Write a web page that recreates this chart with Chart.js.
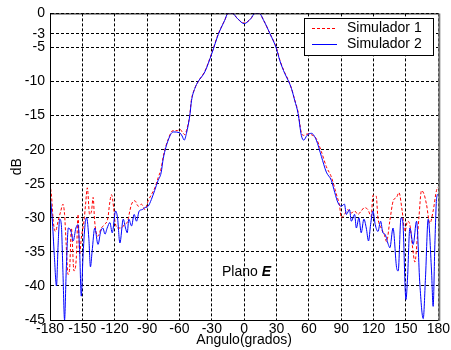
<!DOCTYPE html>
<html>
<head>
<meta charset="utf-8">
<script src="https://cdn.jsdelivr.net/npm/chart.js@4.4.1/dist/chart.umd.min.js"></script>
<style>
  html, body { margin: 0; padding: 0; background: #fff; }
  #wrap { width: 451px; height: 350px; }
</style>
</head>
<body>
<div id="wrap"><canvas id="plot" width="451" height="350"></canvas></div>
<script>
// angle ticks (x) and dB ticks (y)
var xTicks = [-180, -150, -120, -90, -60, -30, 0, 30, 60, 90, 120, 150, 180];
var yTicks = [0, -3, -5, -10, -15, -20, -25, -30, -35, -40, -45];

var seriesNames = ["Simulador 1", "Simulador 2"];

// Simulador 1 (red dashed)
var angles1 = [-180,-178.5,-177,-175,-172.5,-170,-168,-166.5,-165,-163.3,-161.8,-160.2,-157.8,-155.6,-154,-152.5,-151,-148.5,-147,-145.4,
  -143.3,-141.5,-140,-138.6,-135.6,-132.5,-129.4,-126.3,-124.8,-123,-121,-119.8,-117,-114,-111,-108,-106,-104.4,-101.3,-98.2,
  -95.2,-92,-89,-86,-82.8,-79.7,-77,-75,-70,-66,-62,-59.6,-57,-55,-53.5,-50.5,-49,-45.7,-42.6,-36.5,
  -30,-24,-18,-15,-11,-6,0,6,10,14,18,24,30,33,37.6,40.7,43.8,46.9,50,53,
  55.2,58.3,62.3,66.9,71.6,76.2,80.8,85.4,88.5,90,93,96.2,99.3,102.4,105.5,108.5,111.6,114.7,117.8,119.4,
  122.4,124,127,130,132,135,138.2,141.3,143.5,146.5,149,151.5,153.6,155.8,158.3,160.5,162,164.4,166.9,169,
  172.2,175.2,178.3,180];
var db1 = [-25,-27,-30.5,-32,-30.5,-29,-28,-29.5,-33.9,-38.3,-37.5,-31.5,-37.8,-35.9,-29.5,-35.4,-33,-30.5,-28,-25.6,
  -29.5,-29,-27,-30.5,-32.7,-31.5,-31,-30,-28,-26.6,-28.5,-30.5,-31.5,-31.5,-31,-30.5,-29,-28,-27.5,-28.3,
  -28,-28.8,-27.5,-26.6,-25.6,-24.1,-22.8,-21,-18.3,-17.2,-17.2,-17,-17.5,-17.8,-17.2,-15,-12.8,-11,-10,-8.5,
  -5.8,-3,-1,0,0,-0.8,-1.4,-0.8,0,0,-1,-3,-5.1,-6.8,-8.7,-9.7,-11,-12.7,-14.5,-17.5,
  -17.9,-17.7,-17.8,-18.4,-20.3,-22.5,-24,-26.5,-28.3,-30,-29.5,-28.8,-29.3,-29,-29.5,-29,-28.5,-28.8,-29.8,-26.7,
  -26.8,-30,-31.5,-32.5,-33.5,-30.5,-27.5,-27,-26.3,-29,-32,-30.5,-31,-33.9,-36.5,-33,-30,-26,-26.6,-28,
  -30.8,-29,-26,-25.5];

// Simulador 2 (blue solid)
var angles2 = [-180,-178,-176,-174,-172.5,-171,-169.5,-168,-166.5,-165,-163,-160.5,-158.5,-156,-154,-152.5,-151,-149.5,-147.5,-146,
  -144,-142.5,-141,-138.5,-135.5,-133,-131,-129,-127,-124.5,-122.3,-119.2,-117.4,-115.2,-112.1,-110,-108.4,-106.9,-104.4,-102,
  -99.8,-97.3,-94.5,-92,-89,-86,-83,-80,-77,-75,-70.4,-65.8,-60,-57.5,-55.6,-53.5,-50.4,-48.8,-45.7,-42.6,
  -36.5,-30,-24,-18,-15,-11,-6,0,6,10,14,18,24,30,33,37.6,40.7,43.8,46.9,50,
  53,55.2,58.3,62.3,66.9,71.6,76.2,80.8,84,87,90,93,94.7,97.7,99.3,102.4,104,106.4,108.5,111,
  113.2,115.3,117.2,119.4,121.5,124,126.5,128.6,130.5,133.6,135.1,138,141.3,142.8,145.4,147,150,151.5,153.6,156.7,
  159.8,162.9,166,168.1,170.6,173.7,175.2,176.8,178.5,180];
var db2 = [-26.5,-30,-35.5,-40,-34,-30.2,-31,-38,-45,-38,-31.5,-32,-33.4,-31.5,-31,-35,-41.5,-36,-31,-30,
  -33,-37.2,-35,-31.5,-33.9,-32,-31.5,-32.4,-31.5,-30.7,-32.2,-29,-30,-33.7,-30.2,-31.5,-32.2,-30.2,-31.2,-29.5,
  -30.5,-29,-28.8,-28.5,-28.3,-27.3,-26,-24.6,-23.4,-21.3,-18.6,-17.4,-17.5,-18,-18.6,-17.6,-15,-12.8,-11,-10,
  -8.6,-5.9,-3.1,-1,0,0,-0.8,-1.5,-0.8,0,0,-1,-3,-5.2,-6.9,-8.8,-9.8,-11,-12.8,-14.7,
  -17.9,-18.6,-17.9,-17.6,-18.6,-21,-23.3,-24.5,-26.3,-27.8,-28.3,-28,-29.5,-28.8,-30.5,-29.5,-31.5,-30,-32.2,-30.2,
  -31.5,-33.4,-31,-29,-31,-32,-30.5,-32.2,-32.4,-33.9,-34.4,-31.5,-37.3,-37.8,-30,-30.5,-42,-38.7,-31.5,-33.9,
  -30.5,-39.8,-44.8,-38.8,-30.2,-37.8,-43,-33.9,-27,-26.5];

function toPoints(xs, ys){
	var pts = [];
	for(var i=0; i<xs.length; i++){
		pts.push({x: xs[i], y: ys[i]});
	}
	return pts;
}

var FONT = "'Liberation Sans', Arial, sans-serif";

// white page, box around the plot, legend and the "Plano E" label
var extras = {
	id: 'extras',
	beforeDraw: function(chart){
		var ctx = chart.ctx;
		ctx.save();
		ctx.fillStyle = '#fff';
		ctx.fillRect(0, 0, chart.width, chart.height);
		ctx.restore();
	},
	afterDraw: function(chart){
		var ctx = chart.ctx;
		var a = chart.chartArea;
		ctx.save();
		// box
		ctx.strokeStyle = '#000';
		ctx.lineWidth = 1;
		ctx.beginPath();
		ctx.moveTo(a.left + 0.5, a.bottom + 0.5);
		ctx.lineTo(a.left + 0.5, a.top + 0.5);
		ctx.lineTo(a.right + 0.5, a.top + 0.5);
		ctx.stroke();
		ctx.beginPath();
		ctx.moveTo(a.left, a.bottom + 0.5);
		ctx.lineTo(a.right, a.bottom + 0.5);
		ctx.stroke();
		ctx.strokeStyle = '#777';
		ctx.lineWidth = 2;
		ctx.beginPath();
		ctx.moveTo(a.right + 1, a.top);
		ctx.lineTo(a.right + 1, a.bottom + 1);
		ctx.stroke();

		// legend
		var lx = 304, ly = 18, lw = 129, lh = 37;
		ctx.fillStyle = '#fff';
		ctx.fillRect(lx, ly, lw, lh);
		ctx.strokeStyle = '#000';
		ctx.lineWidth = 1;
		ctx.strokeRect(lx + 0.5, ly + 0.5, lw, lh);
		var colors = ['#ff0000', '#0000ff'];
		var dashes = [[3, 2], []];
		ctx.font = '14px ' + FONT;
		ctx.textBaseline = 'middle';
		ctx.textAlign = 'left';
		for(var i=0; i<seriesNames.length; i++){
			var yy = ly + 10.5 + i * 16;
			ctx.strokeStyle = colors[i];
			ctx.setLineDash(dashes[i]);
			ctx.beginPath();
			ctx.moveTo(lx + 8, yy);
			ctx.lineTo(lx + 33, yy);
			ctx.stroke();
			ctx.setLineDash([]);
			ctx.fillStyle = '#000';
			ctx.fillText(seriesNames[i], lx + 43, yy);
		}

		// Plano E
		ctx.font = '14px ' + FONT;
		ctx.fillStyle = '#000';
		ctx.fillText('Plano ', 222, 272);
		var w = ctx.measureText('Plano ').width;
		ctx.font = 'italic bold 14px ' + FONT;
		ctx.fillText('E', 222 + w, 272);
		ctx.restore();
	}
};

var context = document.getElementById('plot').getContext('2d');
var chart = new Chart(context, {
	type: 'line',
	data: {
		datasets: [{
			label: seriesNames[0],
			data: toPoints(angles1, db1),
			borderColor: '#ff0000',
			borderWidth: 1,
			borderDash: [3, 2],
			pointRadius: 0,
			cubicInterpolationMode: 'monotone',
			fill: false,
			order: 1
		}, {
			label: seriesNames[1],
			data: toPoints(angles2, db2),
			borderColor: '#0000ff',
			borderWidth: 1,
			pointRadius: 0,
			cubicInterpolationMode: 'monotone',
			fill: false,
			order: 0
		}]
	},
	options: {
		responsive: false,
		animation: false,
		devicePixelRatio: 1,
		layout: { padding: { left: 9, right: 11, top: 13, bottom: 0 } },
		plugins: {
			legend: { display: false },
			tooltip: { enabled: false }
		},
		scales: {
			x: {
				type: 'linear',
				min: -180,
				max: 180,
				afterBuildTicks: function(scale){
					scale.ticks = xTicks.map(function(v){ return {value: v}; });
				},
				afterFit: function(scale){ scale.height = 30; },
				ticks: {
					autoSkip: false,
					maxRotation: 0,
					padding: 1,
					color: '#000',
					font: { family: FONT, size: 14 }
				},
				grid: { color: '#000', lineWidth: 1, drawTicks: false },
				border: { display: true, color: '#000', dash: [3, 2] },
				title: {
					display: true,
					text: 'Angulo(grados)',
					color: '#000',
					padding: { top: 0, bottom: 1 },
					font: { family: FONT, size: 14 }
				}
			},
			y: {
				type: 'linear',
				min: -45,
				max: 0,
				afterBuildTicks: function(scale){
					scale.ticks = yTicks.map(function(v){ return {value: v}; });
				},
				afterFit: function(scale){ scale.width = 41; },
				ticks: {
					autoSkip: false,
					padding: 5,
					color: '#000',
					font: { family: FONT, size: 14 }
				},
				grid: { color: '#000', lineWidth: 1, drawTicks: false },
				border: { display: true, color: '#000', dash: [3, 2] },
				title: {
					display: true,
					text: 'dB',
					color: '#000',
					padding: { top: 0, bottom: 0 },
					font: { family: FONT, size: 14 }
				}
			}
		}
	},
	plugins: [extras]
});
</script>
</body>
</html>
